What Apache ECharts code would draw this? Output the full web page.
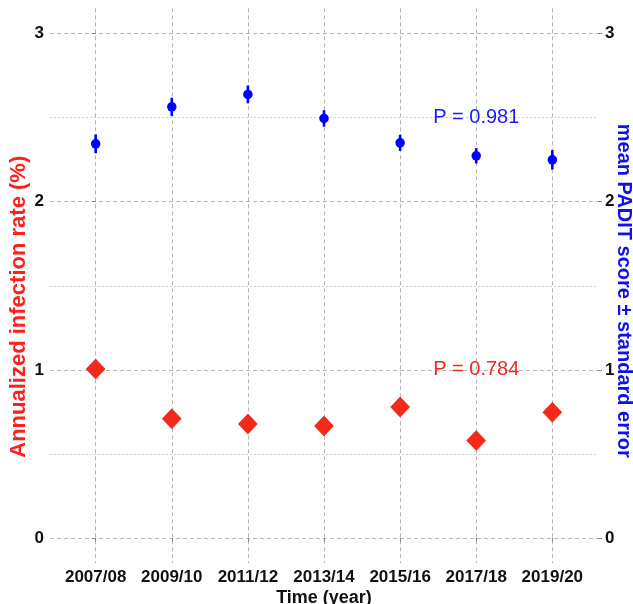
<!DOCTYPE html>
<html>
<head>
<meta charset="utf-8">
<script src="https://cdn.jsdelivr.net/npm/echarts@6/dist/echarts.min.js"></script>
<style>
html,body{margin:0;padding:0;background:#fff;}
#chart{width:633px;height:604px;}
</style>
</head>
<body>
<div id="chart"></div>
<script>
// ---- data ----
var categories = ['2007/08', '2009/10', '2011/12', '2013/14', '2015/16', '2017/18', '2019/20'];
var infectionRate = [1.005, 0.709, 0.678, 0.666, 0.779, 0.579, 0.747];
var paditMean = [2.344, 2.564, 2.638, 2.495, 2.350, 2.273, 2.249];
var paditSE = [0.056, 0.054, 0.053, 0.049, 0.048, 0.046, 0.058];
var yTicks = [0, 1, 2, 3];
var yMinorTicks = [0.5, 1.5, 2.5];
var pLabels = [
  { x: 5, y: 2.5, text: 'P = 0.981', color: '#1a1aff' },
  { x: 5, y: 1.0, text: 'P = 0.784', color: '#ee2a1f' }
];

var FONT = '"Liberation Sans", Arial, sans-serif';
var BLUE = '#0000ff';
var RED = '#f5281c';
var catIdx = categories.map(function (c, i) { return i; });

var chart = echarts.init(document.getElementById('chart'), null, { renderer: 'canvas' });

var majorLine = { color: '#b4b4b4', width: 1, type: [4, 3] };
var minorLine = { color: '#cfcfcf', width: 1, type: [2, 2] };

var yAxisBase = {
  type: 'value',
  min: -0.15,
  max: 3.15,
  axisLine: { show: false },
  axisTick: { show: true, length: 4, customValues: yTicks, lineStyle: { color: '#8a8a8a' } },
  nameLocation: 'middle',
  nameMoveOverlap: false
};
var yLabelStyle = { customValues: yTicks, color: '#111', fontSize: 17, fontWeight: 'bold', fontFamily: FONT };

var option = {
  backgroundColor: '#ffffff',
  animation: false,
  grid: { left: 50, right: 35, top: 8.3, bottom: 40.8, outerBoundsMode: 'none' },
  xAxis: {
    type: 'value',
    min: -0.6,
    max: 6.6,
    axisLine: { show: false },
    axisTick: { show: true, length: 4, customValues: catIdx, lineStyle: { color: '#8a8a8a' } },
    axisLabel: {
      customValues: catIdx,
      formatter: function (v) { return categories[Math.round(v)]; },
      color: '#111', fontSize: 17, fontWeight: 'bold', fontFamily: FONT, margin: 6
    },
    splitLine: { show: true, lineStyle: majorLine },
    name: 'Time (year)',
    nameLocation: 'middle',
    nameMoveOverlap: false,
    nameGap: 26,
    nameTextStyle: { color: '#111', fontSize: 18, fontWeight: 'bold', fontFamily: FONT, verticalAlign: 'top' }
  },
  yAxis: [
    Object.assign({}, yAxisBase, {
      position: 'left',
      axisLabel: Object.assign({}, yLabelStyle, { margin: 6 }),
      splitLine: { show: true, lineStyle: majorLine },
      name: 'Annualized infection rate (%)',
      nameRotate: 90,
      nameGap: 20,
      nameTextStyle: { color: '#ff1f1f', fontSize: 22, fontWeight: 'bold', fontFamily: FONT, padding: [0, 42, 0, 0] }
    }),
    Object.assign({}, yAxisBase, {
      position: 'right',
      axisLabel: Object.assign({}, yLabelStyle, { margin: 7 }),
      splitLine: { show: false },
      name: 'mean PADIT score \u00b1 standard error',
      nameRotate: -90,
      nameGap: 16,
      nameTextStyle: { color: '#1010ee', fontSize: 20, fontWeight: 'bold', fontFamily: FONT, padding: [0, 0, 0, 10] }
    }),
    {
      type: 'value',
      min: -0.15,
      max: 3.15,
      position: 'left',
      axisLine: { show: false },
      axisTick: { show: false, customValues: yMinorTicks },
      axisLabel: { show: false, customValues: yMinorTicks },
      splitLine: { show: true, lineStyle: minorLine }
    }
  ],
  series: [
    {
      name: 'PADIT SE',
      type: 'custom',
      yAxisIndex: 1,
      data: catIdx.map(function (i) { return [i, paditMean[i] - paditSE[i], paditMean[i] + paditSE[i]]; }),
      renderItem: function (params, api) {
        var lo = api.coord([api.value(0), api.value(1)]);
        var hi = api.coord([api.value(0), api.value(2)]);
        return {
          type: 'line',
          shape: { x1: lo[0], y1: lo[1], x2: hi[0], y2: hi[1] },
          style: { stroke: BLUE, lineWidth: 2.6 }
        };
      },
      z: 3
    },
    {
      name: 'PADIT mean',
      type: 'scatter',
      yAxisIndex: 1,
      symbol: 'circle',
      symbolSize: 9.5,
      itemStyle: { color: BLUE, opacity: 1 },
      data: catIdx.map(function (i) { return [i, paditMean[i]]; }),
      z: 4
    },
    {
      name: 'Infection rate',
      type: 'scatter',
      yAxisIndex: 0,
      symbol: 'diamond',
      symbolSize: [19, 20],
      itemStyle: { color: RED, borderColor: '#d41c10', borderWidth: 0.6, opacity: 1 },
      data: catIdx.map(function (i) { return [i, infectionRate[i]]; }),
      z: 4
    },
    {
      name: 'P values',
      type: 'scatter',
      yAxisIndex: 0,
      symbolSize: 0,
      silent: true,
      itemStyle: { opacity: 1 },
      data: pLabels.map(function (p) {
        return {
          value: [p.x, p.y],
          label: {
            show: true, position: 'inside', formatter: p.text,
            color: p.color, fontSize: 20, fontFamily: FONT, opacity: 1
          }
        };
      }),
      z: 5
    }
  ]
};

chart.setOption(option);
</script>
</body>
</html>
